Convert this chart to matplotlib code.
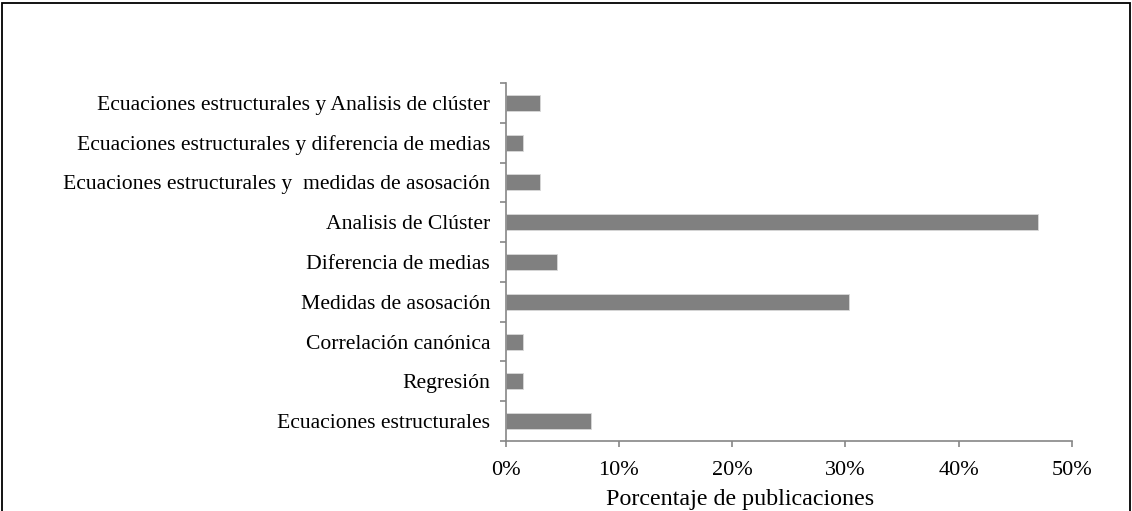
import matplotlib
matplotlib.use("Agg")
import matplotlib.pyplot as plt
from matplotlib.patches import Rectangle
from matplotlib.ticker import FuncFormatter, FixedLocator
import numpy as np

categories = [
    "Ecuaciones estructurales y Analisis de clúster",
    "Ecuaciones estructurales y diferencia de medias",
    "Ecuaciones estructurales y  medidas de asosación",
    "Analisis de Clúster",
    "Diferencia de medias",
    "Medidas de asosación",
    "Correlación canónica",
    "Regresión",
    "Ecuaciones estructurales",
]
values = [3.03, 1.52, 3.03, 46.97, 4.55, 30.30, 1.52, 1.52, 7.58]
x_ticks = [0, 10, 20, 30, 40, 50]
x_label = "Porcentaje de publicaciones"

plt.rcParams['font.family'] = ['Liberation Serif', 'DejaVu Serif']

fig = plt.figure(figsize=(11.32, 5.11), dpi=100)
L, R, B, T = 505.5, 1072, 441, 83
ax = fig.add_axes([L/1132, 1 - B/511, (R-L)/1132, (B-T)/511])

n = len(categories)
ypos = np.arange(n)[::-1]
ax.barh(ypos, values, height=0.4, color="#808080", edgecolor="#d9d9d9", linewidth=0.6)

ax.set_xlim(0, 50)
ax.set_ylim(-0.5, n - 0.5)
ax.xaxis.set_major_locator(FixedLocator(x_ticks))
ax.xaxis.set_major_formatter(FuncFormatter(lambda v, p: f"{int(v)}%"))

ax.set_yticks(ypos)
ax.set_yticklabels(categories)
ax.yaxis.set_minor_locator(FixedLocator(np.arange(-0.5, n, 1.0)))
ax.tick_params(axis='y', which='major', length=0, pad=11, labelsize=15.6)
ax.tick_params(axis='y', which='minor', length=4.5, width=1.2, color="#868686")
ax.tick_params(axis='x', which='major', length=4.5, width=1.2, color="#868686", labelsize=16, pad=10)

ax.set_xlabel(x_label, fontsize=17.3)
ax.xaxis.label.set_verticalalignment('baseline')
ax.xaxis.set_label_coords((740 - L)/(R - L), -(505 - B)/(B - T))

for s in ['top', 'right']:
    ax.spines[s].set_visible(False)
for s in ['left', 'bottom']:
    ax.spines[s].set_color("#868686")
    ax.spines[s].set_linewidth(1.2)

fig.patches.append(Rectangle((2/1132, -0.05), 1128/1132, 1.05 - 3/511,
                             transform=fig.transFigure, fill=False,
                             edgecolor="black", linewidth=1.3))

fig.savefig("out.png", dpi=100)
